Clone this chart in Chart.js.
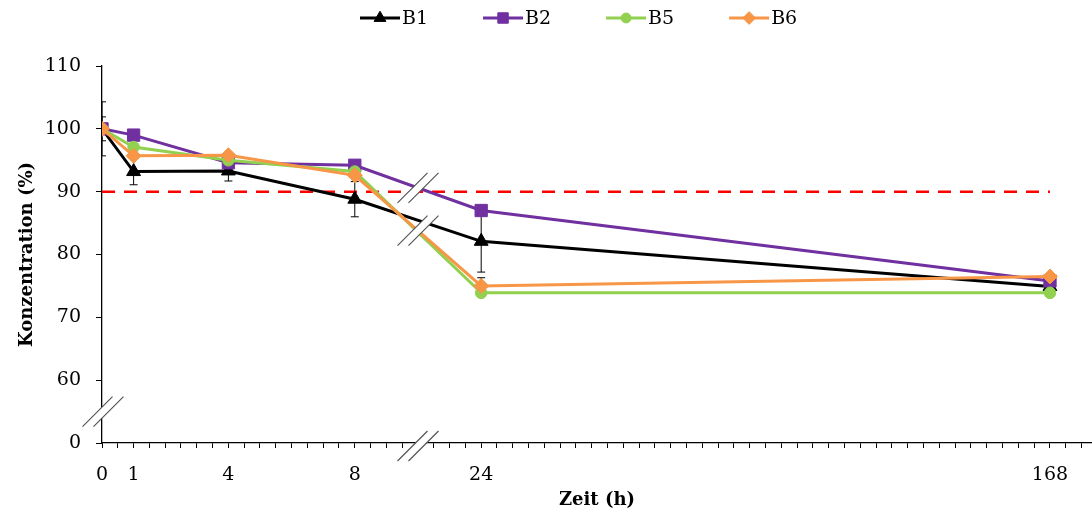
<!DOCTYPE html>
<html>
<head>
<meta charset="utf-8">
<script src="https://cdn.jsdelivr.net/npm/chart.js@4.4.1/dist/chart.umd.min.js"></script>
<style>
  html, body { margin: 0; padding: 0; background: #fff; }
</style>
</head>
<body>
<canvas id="stabChart" width="1092" height="516"></canvas>
<script>
// ---- data ----
const HOURS = [0, 1, 4, 8, 24, 168];
const TICK_LABELS = ['0', '1', '4', '8', '24', '168'];

const B1 = [100, 93.2, 93.3, 88.8, 82.1, 74.9];
const B2 = [100, 99.0, 94.6, 94.2, 87.0, 75.8];
const B5 = [100, 97.1, 95.0, 93.2, 73.9, 73.9];
const B6 = [100, 95.7, 95.8, 92.6, 75.0, 76.5];

const B1_ERR = [4.3, 2.1, 1.6, 2.8, 4.9, 0];
const B2_ERR = [1.9, 0, 0, 0, 0, 0];
const B6_ERR = [0, 0, 0, 0, 1.3, 0];

const LIMIT = 90;

const Y_TICKS = [50, 60, 70, 80, 90, 100, 110];        // 50 is shown as "0" (broken axis)
const Y_TICK_LABELS = ['0', '60', '70', '80', '90', '100', '110'];

// broken time axis: 0-8 h linear, 24-168 h compressed 1:8
function axisPos(h) {
    return h <= 8 ? h : 12 + (h - 24) / 8;
}

const X_MAX = 31.33;
const BREAK_X = 10;   // where the time axis is cut
const BREAK_Y = 55;   // where the concentration axis is cut

const FONT = "'DejaVu Serif', serif";
Chart.defaults.font.family = FONT;
Chart.defaults.color = '#000';

const xTickValues = [];
for (let v = 0; v <= X_MAX; v += 0.5) xTickValues.push(v);

function series(label, values, errors, color, style, radius, order) {
    return {
        label: label,
        data: HOURS.map((h, i) => ({ x: axisPos(h), y: values[i] })),
        errors: errors,
        inLegend: true,
        borderColor: color,
        backgroundColor: color,
        borderWidth: 3,
        pointStyle: style,
        pointRadius: radius,
        pointBackgroundColor: color,
        pointBorderColor: color,
        pointBorderWidth: 1,
        tension: 0,
        order: order
    };
}

// draws two parallel slashes with a white gap
function drawBreak(ctx, cx, cy) {
    const h = 15, off = 5.5;
    ctx.save();
    ctx.fillStyle = '#fff';
    ctx.beginPath();
    ctx.moveTo(cx - h - off, cy + h);
    ctx.lineTo(cx + h - off, cy - h);
    ctx.lineTo(cx + h + off, cy - h);
    ctx.lineTo(cx - h + off, cy + h);
    ctx.closePath();
    ctx.fill();
    ctx.strokeStyle = '#555';
    ctx.lineWidth = 1.2;
    ctx.beginPath();
    ctx.moveTo(cx - h - off, cy + h);
    ctx.lineTo(cx + h - off, cy - h);
    ctx.moveTo(cx - h + off, cy + h);
    ctx.lineTo(cx + h + off, cy - h);
    ctx.stroke();
    ctx.restore();
}

function valueAt(values, pos) {
    const xs = HOURS.map(axisPos);
    for (let i = 0; i < xs.length - 1; i++) {
        if (pos >= xs[i] && pos <= xs[i + 1]) {
            const t = (pos - xs[i]) / (xs[i + 1] - xs[i]);
            return values[i] + t * (values[i + 1] - values[i]);
        }
    }
    return values[values.length - 1];
}

const errorBars = {
    id: 'errorBars',
    beforeDatasetsDraw(chart) {
        const { ctx, chartArea, scales: { x, y } } = chart;
        ctx.save();
        ctx.beginPath();
        ctx.rect(chartArea.left, chartArea.top, chartArea.right - chartArea.left, chartArea.bottom - chartArea.top);
        ctx.clip();
        ctx.strokeStyle = '#000';
        ctx.lineWidth = 1;
        chart.data.datasets.forEach(ds => {
            if (!ds.errors) return;
            ds.data.forEach((p, i) => {
                const e = ds.errors[i];
                if (!e) return;
                const px = x.getPixelForValue(p.x);
                const top = y.getPixelForValue(p.y + e);
                const bot = y.getPixelForValue(p.y - e);
                ctx.beginPath();
                ctx.moveTo(px, top); ctx.lineTo(px, bot);
                ctx.moveTo(px - 4, top); ctx.lineTo(px + 4, top);
                ctx.moveTo(px - 4, bot); ctx.lineTo(px + 4, bot);
                ctx.stroke();
            });
        });
        ctx.restore();
    }
};

const breaks = {
    id: 'breaks',
    afterDraw(chart) {
        const { ctx, chartArea, scales: { x, y } } = chart;
        drawBreak(ctx, chartArea.left + 1, y.getPixelForValue(BREAK_Y));
        drawBreak(ctx, x.getPixelForValue(BREAK_X), chartArea.bottom + 3);
        const bx = x.getPixelForValue(BREAK_X);
        drawBreak(ctx, bx, y.getPixelForValue(valueAt(B2, BREAK_X)));
        drawBreak(ctx, bx, y.getPixelForValue(valueAt(B6, BREAK_X)));
    }
};

const LEGEND_LEFT = 360;
const lineLegend = {
    id: 'lineLegend',
    afterDraw(chart) {
        const ctx = chart.ctx;
        const items = chart.data.datasets.filter(d => d.inLegend);
        const sample = 40, gap = 2, space = 55, cy = 18;
        let lx = LEGEND_LEFT;
        ctx.save();
        ctx.font = '19px ' + FONT;
        ctx.textBaseline = 'middle';
        items.forEach(d => {
            ctx.strokeStyle = d.borderColor;
            ctx.lineWidth = 3;
            ctx.beginPath();
            ctx.moveTo(lx, cy);
            ctx.lineTo(lx + sample, cy);
            ctx.stroke();
            ctx.fillStyle = d.pointBackgroundColor;
            ctx.lineWidth = 1;
            Chart.helpers.drawPoint(ctx, {
                pointStyle: d.pointStyle,
                radius: d.pointRadius * 0.85,
                rotation: 0,
                borderWidth: 1
            }, lx + sample / 2, cy);
            ctx.fillStyle = '#000';
            ctx.fillText(d.label, lx + sample + gap, cy + 1);
            lx += sample + gap + ctx.measureText(d.label).width + space;
        });
        ctx.restore();
    }
};

new Chart(document.getElementById('stabChart'), {
    type: 'line',
    data: {
        datasets: [
            series('B1', B1, B1_ERR, '#000000', 'triangle', 8, 4),
            series('B2', B2, B2_ERR, '#7030A0', 'rect', 8.7, 3),
            series('B5', B5, null, '#92D050', 'circle', 5.8, 2),
            series('B6', B6, B6_ERR, '#F79646', 'rectRot', 7.5, 1),
            {
                label: 'Grenze',
                data: [
                    { x: axisPos(HOURS[0]), y: LIMIT },
                    { x: axisPos(HOURS[HOURS.length - 1]), y: LIMIT }
                ],
                borderColor: '#FF0000',
                borderWidth: 2.5,
                borderDash: [13, 9],
                pointRadius: 0,
                order: 10
            }
        ]
    },
    options: {
        responsive: false,
        animation: false,
        events: [],
        layout: {
            autoPadding: false,   // markers may overhang; the axis must reach the right edge
            padding: { top: 66, right: 0, bottom: 0, left: 0 }
        },
        plugins: {
            legend: { display: false },
            tooltip: { enabled: false }
        },
        scales: {
            x: {
                type: 'linear',
                min: 0,
                max: X_MAX,
                afterBuildTicks: s => { s.ticks = xTickValues.map(v => ({ value: v })); },
                afterFit: s => { s.height = 73; },
                grid: {
                    drawOnChartArea: false,
                    drawTicks: true,
                    tickLength: 5,
                    color: '#000'
                },
                border: { color: '#000', width: 1.3 },
                ticks: {
                    autoSkip: false,
                    maxRotation: 0,
                    padding: 2,
                    color: '#000',
                    font: { size: 19, lineHeight: 2.63 },
                    callback: v => {
                        const i = HOURS.findIndex(h => axisPos(h) === v);
                        return i >= 0 ? TICK_LABELS[i] : '';
                    }
                },
                title: {
                    display: true,
                    text: 'Zeit (h)',
                    color: '#000',
                    font: { size: 18, weight: 'bold' },
                    padding: { top: 0, bottom: 5 }
                }
            },
            y: {
                min: 50,
                max: 110,
                afterBuildTicks: s => { s.ticks = Y_TICKS.map(v => ({ value: v })); },
                afterFit: s => { s.width = 102; },
                grid: {
                    drawOnChartArea: false,
                    tickLength: 6,
                    color: '#000'
                },
                border: { color: '#000', width: 1.3 },
                ticks: {
                    padding: 15,
                    color: '#000',
                    font: { size: 19 },
                    callback: v => Y_TICK_LABELS[Y_TICKS.indexOf(v)]
                },
                title: {
                    display: true,
                    text: 'Konzentration (%)',
                    color: '#000',
                    font: { size: 18, weight: 'bold' },
                    padding: { top: 17, bottom: 0 }
                }
            }
        }
    },
    plugins: [errorBars, breaks, lineLegend]
});
</script>
</body>
</html>
